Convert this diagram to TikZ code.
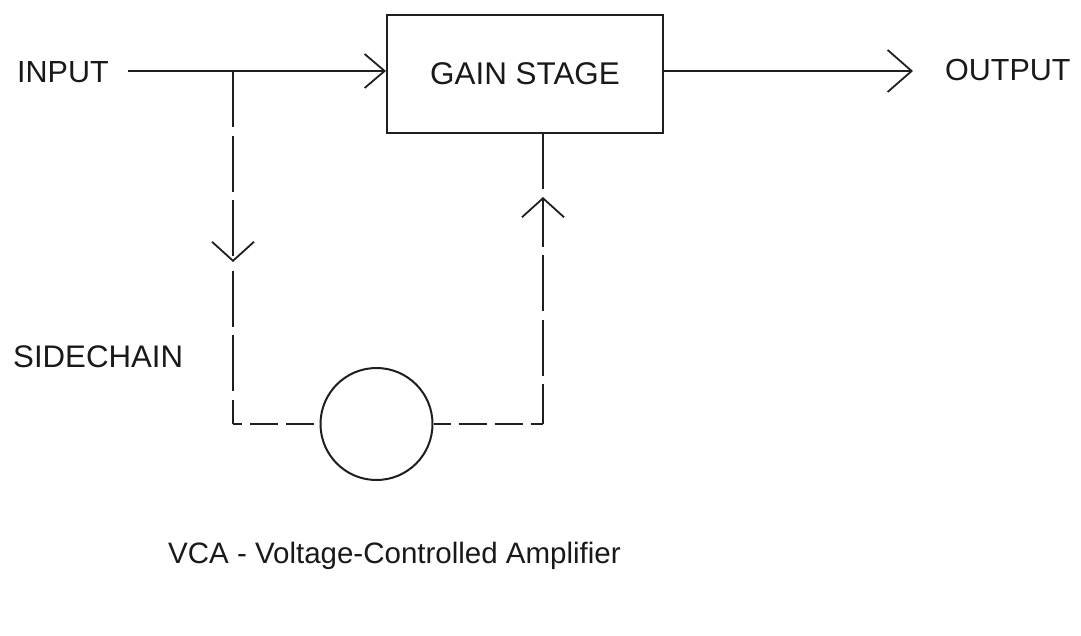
\documentclass[tikz,border=0pt]{standalone}
\usepackage{fontspec}
\setmainfont{Liberation Sans}
\usetikzlibrary{arrows.meta}
\begin{document}
\begin{tikzpicture}[x=1pt,y=-1pt,
  lbl/.style={inner sep=0pt, font=\fontsize{30.5}{36}\selectfont, text=black!90},
  wire/.style={line width=2pt, draw=black!88},
  vdash/.style={wire, dash pattern=on 56pt off 8.5pt},
  hdash/.style={wire, dash pattern=on 28pt off 8pt},
  tipH/.style={-{Straight Barb[length=20pt,width=34pt,line width=1.8pt]}},
  tipO/.style={-{Straight Barb[length=24pt,width=42pt,line width=1.8pt]}},
  tipV/.style={-{Straight Barb[length=19pt,width=42pt,line width=1.8pt]}},
]
\useasboundingbox (0,0) rectangle (1081,635);
\node[lbl, anchor=base west] (input) at (17,82) {INPUT};
\node[wire, draw, minimum width=276pt, minimum height=118pt, inner sep=0pt, lbl, font=\fontsize{31.4}{36}\selectfont] (gain) at (525,74) {\raisebox{-3.5pt}{GAIN STAGE}};
\node[lbl, anchor=base west] (output) at (945,80) {OUTPUT};
\node[lbl, anchor=base west, font=\fontsize{31.2}{36}\selectfont] (side) at (13,367) {SIDECHAIN};
\node[wire, draw, circle, minimum size=112pt, inner sep=0pt] (vca) at (376.5,424) {};
\node[lbl, anchor=base west, font=\fontsize{29.5}{36}\selectfont] (vcalbl) at (168,563) {VCA - Voltage-Controlled Amplifier};
\coordinate (inStart) at (128,71);
\coordinate (outEnd) at (913,71);
\coordinate (branch) at (233,71);
\coordinate (tipL) at (233,262);
\coordinate (cornerL) at (233,424);
\coordinate (cornerR) at (543,424);
\coordinate (tipR) at (543,197);
% main signal path
\draw[wire, tipH] (inStart) -- (inStart -| gain.west);
\draw[wire, tipO] (gain.east |- inStart) -- (outEnd);
% sidechain
\draw[vdash, tipV] (branch) -- (tipL);
\draw[vdash, dash phase=56pt] (tipL) -- (cornerL);
\draw[hdash, dash phase=19pt] (cornerL) -- (vca.west);
\draw[hdash, dash phase=11pt] (vca.east) -- (cornerR);
\draw[vdash, dash phase=16pt, tipV] (cornerR) -- (tipR);
\draw[vdash, dash phase=56pt] (tipR) -- (tipR |- gain.south);
\end{tikzpicture}
\end{document}
